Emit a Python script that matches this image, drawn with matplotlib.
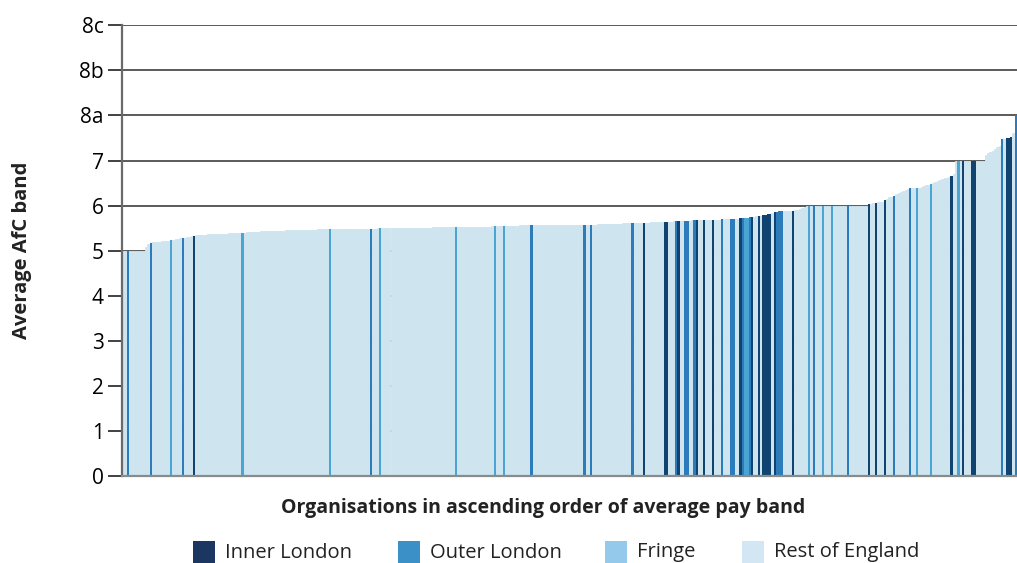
import numpy as np
import matplotlib
matplotlib.use('Agg')
import matplotlib.pyplot as plt
from matplotlib.patches import Rectangle

##--------------------------------------------------------------------
# average AfC pay band per organisation, ascending (8a = 8, 8b = 9, 8c = 10)
pay_band = [
    5.00, 5.00, 5.00, 5.00, 5.00, 5.00, 5.00, 5.00, 5.00, 5.00,
    5.08, 5.15, 5.17, 5.19, 5.19, 5.20, 5.20, 5.21, 5.21, 5.22,
    5.22, 5.23, 5.24, 5.25, 5.26, 5.27, 5.28, 5.29, 5.30, 5.31,
    5.32, 5.33, 5.34, 5.34, 5.35, 5.35, 5.35, 5.36, 5.36, 5.36,
    5.37, 5.37, 5.37, 5.38, 5.38, 5.38, 5.39, 5.39, 5.39, 5.39,
    5.40, 5.40, 5.40, 5.40, 5.41, 5.41, 5.41, 5.42, 5.42, 5.42,
    5.43, 5.43, 5.43, 5.44, 5.44, 5.44, 5.44, 5.44, 5.44, 5.44,
    5.44, 5.45, 5.45, 5.45, 5.45, 5.45, 5.45, 5.45, 5.46, 5.46,
    5.46, 5.46, 5.46, 5.46, 5.46, 5.47, 5.47, 5.47, 5.47, 5.47,
    5.47, 5.47, 5.47, 5.47, 5.47, 5.47, 5.47, 5.48, 5.48, 5.48,
    5.48, 5.48, 5.48, 5.49, 5.49, 5.49, 5.49, 5.49, 5.49, 5.49,
    5.49, 5.50, 5.50, 5.50, 5.50, 5.50, 5.50, 5.50, 5.50, 5.50,
    5.50, 5.50, 5.50, 5.50, 5.51, 5.51, 5.51, 5.51, 5.51, 5.51,
    5.51, 5.51, 5.51, 5.51, 5.51, 5.52, 5.52, 5.52, 5.52, 5.52,
    5.52, 5.52, 5.52, 5.52, 5.52, 5.52, 5.52, 5.52, 5.52, 5.52,
    5.52, 5.52, 5.52, 5.53, 5.53, 5.53, 5.53, 5.53, 5.53, 5.53,
    5.53, 5.54, 5.54, 5.54, 5.54, 5.55, 5.55, 5.55, 5.55, 5.55,
    5.55, 5.55, 5.55, 5.56, 5.56, 5.56, 5.56, 5.56, 5.56, 5.56,
    5.56, 5.56, 5.56, 5.56, 5.56, 5.56, 5.57, 5.57, 5.57, 5.57,
    5.57, 5.57, 5.57, 5.57, 5.58, 5.58, 5.58, 5.58, 5.58, 5.58,
    5.58, 5.58, 5.58, 5.58, 5.58, 5.58, 5.58, 5.59, 5.59, 5.59,
    5.59, 5.59, 5.60, 5.60, 5.60, 5.60, 5.60, 5.60, 5.61, 5.61,
    5.61, 5.61, 5.61, 5.61, 5.61, 5.61, 5.62, 5.62, 5.62, 5.62,
    5.63, 5.63, 5.63, 5.63, 5.64, 5.64, 5.64, 5.64, 5.64, 5.64,
    5.65, 5.65, 5.65, 5.65, 5.66, 5.66, 5.66, 5.66, 5.67, 5.67,
    5.67, 5.67, 5.68, 5.68, 5.68, 5.68, 5.68, 5.69, 5.69, 5.69,
    5.69, 5.70, 5.70, 5.70, 5.70, 5.71, 5.71, 5.71, 5.71, 5.72,
    5.72, 5.73, 5.73, 5.74, 5.74, 5.75, 5.76, 5.76, 5.77, 5.79,
    5.80, 5.81, 5.82, 5.84, 5.85, 5.86, 5.87, 5.88, 5.88, 5.88,
    5.88, 5.89, 5.89, 5.90, 5.91, 5.92, 5.94, 5.96, 6.00, 6.00,
    6.00, 6.00, 6.00, 6.00, 6.00, 6.00, 6.00, 6.00, 6.00, 6.00,
    6.00, 6.00, 6.00, 6.00, 6.00, 6.00, 6.00, 6.00, 6.00, 6.00,
    6.00, 6.00, 6.00, 6.00, 6.00, 6.03, 6.04, 6.05, 6.06, 6.07,
    6.08, 6.09, 6.12, 6.15, 6.18, 6.20, 6.21, 6.25, 6.27, 6.30,
    6.32, 6.34, 6.36, 6.38, 6.38, 6.38, 6.39, 6.40, 6.42, 6.43,
    6.45, 6.46, 6.47, 6.50, 6.53, 6.55, 6.57, 6.59, 6.61, 6.62,
    6.64, 6.66, 6.71, 7.00, 7.00, 7.00, 7.00, 7.00, 7.00, 7.00,
    7.00, 7.00, 7.00, 7.00, 7.00, 7.00, 7.12, 7.16, 7.19, 7.22,
    7.25, 7.29, 7.32, 7.47, 7.48, 7.49, 7.51, 7.53, 7.62, 8.00,
]

# position (in sorted order) of organisations outside "Rest of England"
inner_london = [31, 227, 236, 237, 242, 250, 253, 257, 269, 274, 277, 279, 280,
                281, 282, 284, 292, 325, 328, 332, 361, 366, 370, 371, 385, 386, 387]
outer_london = [2, 12, 26, 108, 178, 201, 204, 222, 241, 245, 246, 249, 261, 265,
                266, 270, 273, 285, 286, 287, 301, 316, 336, 343, 383, 389]
fringe = [21, 52, 90, 112, 145, 162, 166, 271, 272, 299, 305, 309, 346, 352, 364]

band_labels = ['0', '1', '2', '3', '4', '5', '6', '7', '8a', '8b', '8c']
legend_labels = ['Inner London', 'Outer London', 'Fringe', 'Rest of England']

# bar colours and (slightly different) legend swatch colours
bar_colors = {'inner': '#10436f', 'outer': '#2c7cbb', 'fringe': '#4aa5d3', 'rest': '#cee4ee'}
legend_colors = ['#1b3660', '#3a90c7', '#94c9ec', '#d3e6f4']
##--------------------------------------------------------------------

plt.rcParams['font.family'] = ['Open Sans', 'DejaVu Sans']

W, H = 1017, 563
fig = plt.figure(figsize=(W / 100, H / 100), dpi=100)
ax = fig.add_axes([122 / W, 1 - 476 / H, (W - 122) / W, (476 - 25.3) / H])

n = len(pay_band)
colors = [bar_colors['rest']] * n
for i in inner_london:
    colors[i] = bar_colors['inner']
for i in outer_london:
    colors[i] = bar_colors['outer']
for i in fringe:
    colors[i] = bar_colors['fringe']

# light bars first (as one continuous area), coloured bars on top
x = np.arange(n)
ax.bar(x, pay_band, width=1.0, color=bar_colors['rest'], edgecolor=bar_colors['rest'],
       linewidth=0.6, zorder=2)
hl = [i for i in range(n) if colors[i] != bar_colors['rest']]
ax.bar(x[hl], np.array(pay_band)[hl], width=1.0, color=[colors[i] for i in hl],
       linewidth=0, zorder=2.5)

ax.set_xlim(-0.5, n - 0.5)
ax.set_ylim(0, 10)
ax.set_yticks(range(11))
ax.set_yticklabels(band_labels)
ax.set_xticks([])
ax.set_axisbelow(True)
ax.yaxis.grid(True, color='#4d4d4d', linewidth=1.3)
ax.tick_params(axis='y', length=10, width=1.3, color='#333333', labelsize=15, pad=3)

for s in ['top', 'right']:
    ax.spines[s].set_visible(False)
ax.spines['left'].set_color('#6a6a6a')
ax.spines['left'].set_linewidth(1.6)
ax.spines['left'].set_zorder(3)
ax.spines['bottom'].set_color('#8a8a8a')
ax.spines['bottom'].set_linewidth(1.6)
ax.spines['bottom'].set_zorder(3)

fig.text(22 / W, 1 - 250 / H, 'Average AfC band', rotation=90, ha='center', va='center',
         fontsize=14.5, fontweight='bold', color='#222222')
fig.text(543 / W, 1 - 508 / H, 'Organisations in ascending order of average pay band',
         ha='center', va='center', fontsize=14, fontweight='bold', color='#222222')

# legend along the bottom edge
swatch_x = [193, 398, 605, 742]
for x0, lab, c in zip(swatch_x, legend_labels, legend_colors):
    fig.patches.append(Rectangle((x0 / W, 0), 22 / W, 22 / H, transform=fig.transFigure,
                                 facecolor=c, edgecolor='none'))
    fig.text((x0 + 32) / W, 1 - 557.5 / H, lab, ha='left', va='baseline',
             fontsize=14.5, color='#222222')

fig.savefig('out.png', dpi=100)
